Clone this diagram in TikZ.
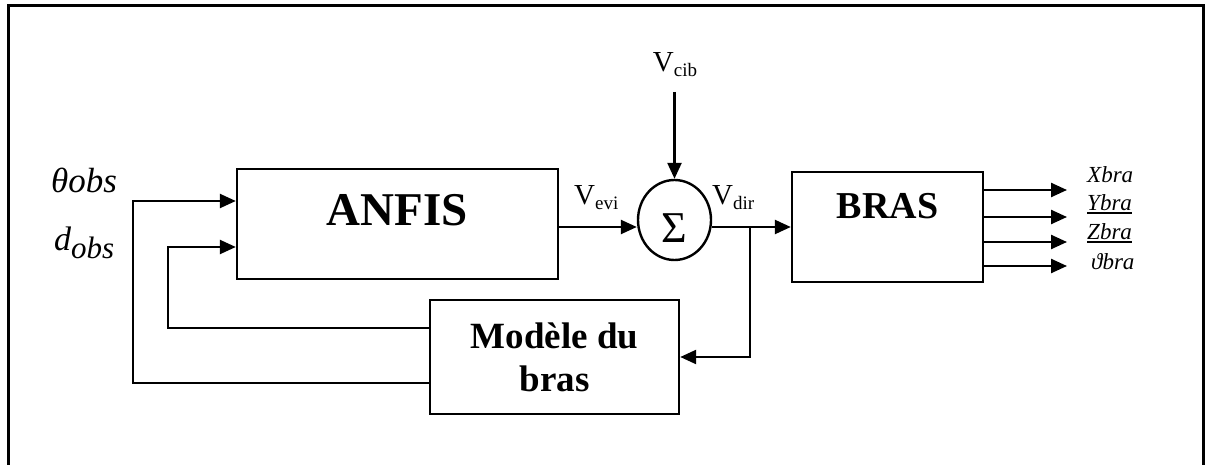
\documentclass[tikz,border=0pt]{standalone}
\usepackage{fontspec}
\setmainfont{Liberation Serif}
\usetikzlibrary{arrows.meta,shapes.geometric}
\newcommand\ulbold[1]{\setbox0\hbox{#1}\rlap{\rule[-3.5pt]{\wd0}{2pt}}\box0}
\tikzset{
  blk/.style={draw,line width=2.4pt,inner sep=0pt},
  conn/.style={line width=2.4pt},
  arr/.style={conn,-{Triangle[length=16pt,width=14pt]}},
  lbl/.style={inner sep=0pt,anchor=base west},
  outlbl/.style={lbl,font=\fontsize{23}{25}\selectfont\itshape},
  vlbl/.style={font=\fontsize{29}{31}\selectfont},
}
\newcommand\vsub[1]{\raisebox{-4.5pt}{\fontsize{19}{20}\selectfont #1}}
\begin{document}
\begin{tikzpicture}[x=1pt,y=-1pt]
\useasboundingbox (0,0) rectangle (1207,465);
% outer frame (no bottom edge)
\draw[line width=3pt] (8,466) -- (8,6) -- (1203,6) -- (1203,466);

% blocks
\node[blk,minimum width=321pt,minimum height=110pt,
  label={[yshift=14pt,font=\bfseries\fontsize{47}{50}\selectfont]center:ANFIS}] (anfis) at (397.5,224) {};
\node[blk,minimum width=191pt,minimum height=110pt,
  label={[yshift=21pt,font=\bfseries\fontsize{38}{40}\selectfont]center:BRAS}] (bras) at (887.5,227) {};
\node[blk,minimum width=249pt,minimum height=114pt,align=center,
  font=\bfseries\fontsize{37}{43}\selectfont] (model) at (554.5,357) {Modèle du\\bras};
\node[blk,ellipse,minimum width=73pt,minimum height=80pt,
  label={[yshift=-8pt,font=\fontsize{44}{46}\selectfont]center:Σ}] (sum) at (674.5,220) {};

% labels
\node[lbl,font=\fontsize{35}{37}\selectfont\itshape] (theta) at (51,193) {θobs};
\node[lbl,font=\fontsize{34}{36}\selectfont\itshape] (dobs) at (54,250) {d\raisebox{-8pt}{\fontsize{31}{32}\selectfont obs}};
\node[inner sep=0pt,anchor=base,vlbl] (vcib) at (675,72) {V\vsub{cib}};
\node[lbl,vlbl] (vevi) at (574,205) {V\vsub{evi}};
\node[lbl,vlbl] (vdir) at (712,205) {V\vsub{dir}};
\node[outlbl] (xbra) at (1087,183) {Xbra};
\node[outlbl] (ybra) at (1087,211) {\ulbold{Ybra}};
\node[outlbl] (zbra) at (1087,239) {\ulbold{Zbra}};
\node[outlbl] (vbra) at (1091,269) {ϑbra};

% coordinates
\coordinate (vtop) at (674.5,92);
\coordinate (vevo) at ([yshift=-3pt]anfis.east);
\coordinate (br) at (750,227);
\coordinate (xth) at (133,0);
\coordinate (xd) at (168,0);
\coordinate (oend) at (1067,0);
\coordinate (o1) at ([yshift=37pt]bras.east);
\coordinate (o2) at ([yshift=10pt]bras.east);
\coordinate (o3) at ([yshift=-15pt]bras.east);
\coordinate (o4) at ([yshift=-39pt]bras.east);
\coordinate (ain1) at ([yshift=23pt]anfis.west);
\coordinate (ain2) at ([yshift=-23pt]anfis.west);
\coordinate (mout1) at ([yshift=29pt]model.west);
\coordinate (mout2) at ([yshift=-26pt]model.west);

% connectors
\draw[arr] (vtop) -- (sum.north);
\draw[arr] (vevo) -- (vevo -| sum.west);
\draw[arr] (vevo -| sum.east) -- (vevo -| bras.west);
\draw[arr] (br) |- (model.east);
\draw[arr] (mout2) -| (xth |- mout2) |- (ain1);
\draw[arr] (mout1) -| (xd |- mout1) |- (ain2);
\draw[arr] (o1) -- (o1 -| oend);
\draw[arr] (o2) -- (o2 -| oend);
\draw[arr] (o3) -- (o3 -| oend);
\draw[arr] (o4) -- (o4 -| oend);
\end{tikzpicture}
\end{document}
